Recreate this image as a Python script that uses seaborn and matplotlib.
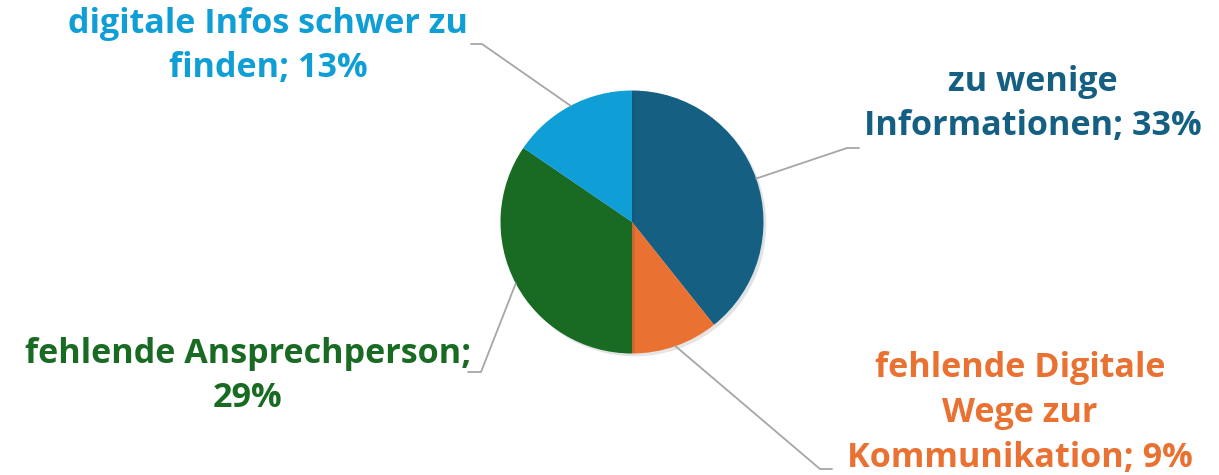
import numpy as np
import matplotlib
matplotlib.use('Agg')
import matplotlib.pyplot as plt
import matplotlib.patheffects as pe
import seaborn as sns

# Daten
labels = ['zu wenige\nInformationen; 33%',
          'fehlende Digitale\nWege zur\nKommunikation; 9%',
          'fehlende Ansprechperson;\n29%',
          'digitale Infos schwer zu\nfinden; 13%']
values = [33, 9, 29, 13]
colors = ['#156082', '#E97132', '#196B24', '#0F9ED5']

# label placement (text center, leader end)
label_pos = [(1033, 104), (1020, 413), (248, 376), (268, 46)]
leader_end = [(847, 148), (820, 469), (481, 372), (482, 44)]
leader_tail = [(859, 148), (832, 469), (468, 372), (471, 44)]

sns.set_theme(style='white')
plt.rcParams['font.family'] = ['Open Sans', 'DejaVu Sans']

W, H = 1219, 475
fig = plt.figure(figsize=(12.19, 4.75), dpi=100)
ax = fig.add_axes([0, 0, 1, 1])

cx, cy, r = 632, H - 222, 131.5
wedges, _ = ax.pie(values, colors=colors, startangle=90, counterclock=False,
                   center=(cx, cy), radius=r, frame=True,
                   wedgeprops=dict(linewidth=0))
for w in wedges:
    w.set_path_effects([pe.SimplePatchShadow(offset=(2, -2), alpha=0.12), pe.Normal()])
ax.set_xlim(0, W)
ax.set_ylim(0, H)
ax.set_aspect('equal')
ax.axis('off')

for w, lab, col, tp, le, lt in zip(wedges, labels, colors, label_pos, leader_end, leader_tail):
    ang = np.deg2rad((w.theta1 + w.theta2) / 2)
    sx, sy = cx + r * np.cos(ang), cy + r * np.sin(ang)
    ax.plot([sx, le[0], lt[0]], [sy, H - le[1], H - lt[1]], color='#A6A6A6', lw=1.3,
            solid_joinstyle='miter')
    ax.text(tp[0], H - tp[1], lab, color=col, fontsize=24.6, fontweight='bold',
            ha='center', va='center', multialignment='center', linespacing=1.41)

fig.savefig('out.png', dpi=100)
